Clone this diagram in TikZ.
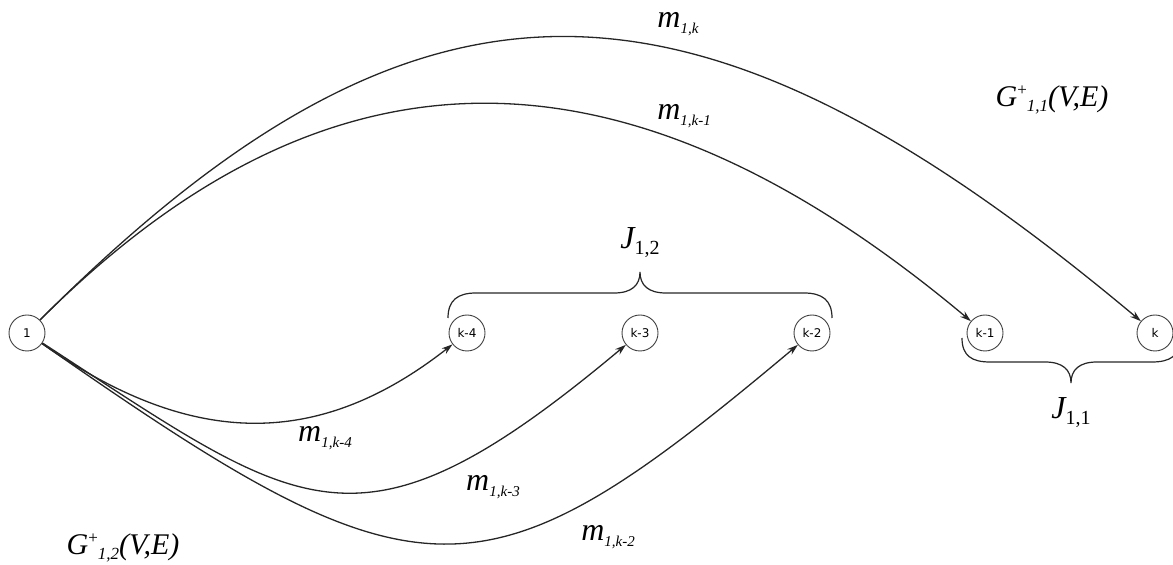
\documentclass[tikz,border=0pt]{standalone}
\usepackage{fontspec}
\setmainfont{Liberation Serif}
\newfontfamily\vertexfont{DejaVu Sans}
\usetikzlibrary{arrows.meta}

% edge label m_{1,j}
\newcommand\edgelab[1]{{\fontsize{32}{32}\selectfont\itshape m\raisebox{-6pt}{\fontsize{15}{15}\selectfont #1}}}
% graph name G^+_{i,j}(V,E)
\newcommand\graphlab[1]{{\fontsize{30}{30}\selectfont\itshape G\raisebox{11pt}{\upshape\fontsize{17}{17}\selectfont +}\raisebox{-5pt}{\fontsize{17}{17}\selectfont #1}(V,E)}}
% set label J_{i,j}
\newcommand\setlab[1]{{\fontsize{32}{32}\selectfont\itshape J\raisebox{-6pt}{\upshape\fontsize{20}{20}\selectfont #1}}}

\begin{document}
\begin{tikzpicture}[x=1pt,y=1pt,
  vertex/.style={circle,draw=black!75,line width=0.9pt,minimum size=36pt,inner sep=0pt,
    font=\vertexfont\fontsize{12}{12}\selectfont},
  edge/.style={line width=1.3pt,black!85,-{Stealth[length=11pt,width=7pt]}},
  bracepath/.style={line width=1.2pt,black!85},
  lab/.style={inner sep=0pt}]
\useasboundingbox (0,0) rectangle (1173,565);

% vertices
\node[vertex] (n1) at (27,232) {1};
\node[vertex] (k4) at (467,232) {k-4};
\node[vertex] (k3) at (640,232) {k-3};
\node[vertex] (k2) at (812,232) {k-2};
\node[vertex] (k1) at (985,232) {k-1};
\node[vertex] (k)  at (1155,232) {k};

% upper arcs
\draw[edge] (n1) .. controls (420,625) and (692,620) .. (k);
\draw[edge] (n1) .. controls (330,535) and (627,532) .. (k1);
% lower arcs
\draw[edge] (n1) .. controls (192,116) and (319,116) .. (k4);
\draw[edge] (n1) .. controls (303,53) and (357,-5) .. (k3);
\draw[edge] (n1) .. controls (423,-45) and (482,-45) .. (k2);

% edge labels
\node[lab] (lk)  at (678,541) {\edgelab{1,k}};
\node[lab] (lk1) at (684,449) {\edgelab{1,k-1}};
\node[lab] (lk4) at (325,127) {\edgelab{1,k-4}};
\node[lab] (lk3) at (493,78)  {\edgelab{1,k-3}};
\node[lab] (lk2) at (608,28)  {\edgelab{1,k-2}};

% graph names
\node[lab] (g11) at (1052,465) {\graphlab{1,1}};
\node[lab] (g12) at (123,17)  {\graphlab{1,2}};

% brace over k-4 .. k-2
\draw[bracepath] (448,247) .. controls (448,265) and (458,272) .. (476,272)
  -- (614,272) .. controls (632,272) and (640,280) .. (640,293)
  .. controls (640,280) and (648,272) .. (666,272)
  -- (804,272) .. controls (822,272) and (832,265) .. (832,247);
\node[lab] (j12) at (640,322) {\setlab{1,2}};

% brace under k-1 .. k
\draw[bracepath] (962,227) .. controls (962,209) and (972,203) .. (990,203)
  -- (1045,203) .. controls (1063,203) and (1071,195) .. (1071,182)
  .. controls (1071,195) and (1079,203) .. (1097,203)
  -- (1152,203) .. controls (1170,203) and (1180,209) .. (1180,227);
\node[lab] (j11) at (1071,152) {\setlab{1,1}};
\end{tikzpicture}
\end{document}
